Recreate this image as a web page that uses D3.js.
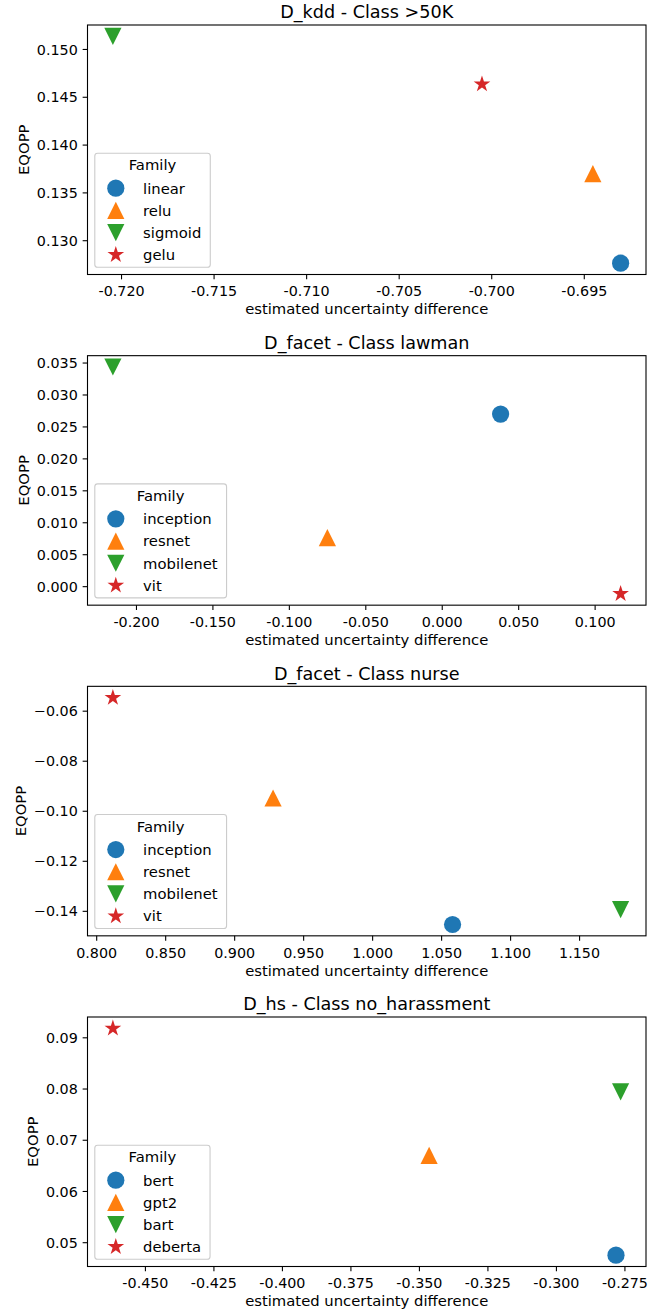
<!DOCTYPE html>
<html>
<head>
<meta charset="utf-8">
<script src="https://cdn.jsdelivr.net/npm/d3@7"></script>
<style>
  html, body { margin: 0; padding: 0; background: #fff; }
  svg { display: block; font-family: "DejaVu Sans", sans-serif; }
</style>
</head>
<body>
<svg id="chart" width="670" height="1311"></svg>
<script>
// ---------- data ----------
const titles = ["D_kdd - Class >50K", "D_facet - Class lawman", "D_facet - Class nurse", "D_hs - Class no_harassment"];

const families1 = ["linear", "relu", "sigmoid", "gelu"];
const xVals1 = [-0.69301, -0.69451, -0.72044, -0.70050];
const yVals1 = [0.12760, 0.13696, 0.15132, 0.14632];
const xTicks1 = [-0.720, -0.715, -0.710, -0.705, -0.700, -0.695];
const yTicks1 = [0.130, 0.135, 0.140, 0.145, 0.150];

const families2 = ["inception", "resnet", "mobilenet", "vit"];
const xVals2 = [0.0385, -0.0748, -0.2151, 0.1170];
const yVals2 = [0.02693, 0.00759, 0.0343, -0.0012];
const xTicks2 = [-0.200, -0.150, -0.100, -0.050, 0.000, 0.050, 0.100];
const yTicks2 = [0.000, 0.005, 0.010, 0.015, 0.020, 0.025, 0.030, 0.035];

const families3 = ["inception", "resnet", "mobilenet", "vit"];
const xVals3 = [1.0583, 0.9282, 1.1801, 0.8121];
const yVals3 = [-0.14546, -0.0949, -0.1395, -0.0548];
const xTicks3 = [0.800, 0.850, 0.900, 0.950, 1.000, 1.050, 1.100, 1.150];
const yTicks3 = [-0.14, -0.12, -0.10, -0.08, -0.06];

const families4 = ["bert", "gpt2", "bart", "deberta"];
const xVals4 = [-0.27808, -0.34628, -0.27639, -0.46169];
const yVals4 = [0.04747, 0.06695, 0.07935, 0.09175];
const xTicks4 = [-0.450, -0.425, -0.400, -0.375, -0.350, -0.325, -0.300, -0.275];
const yTicks4 = [0.05, 0.06, 0.07, 0.08, 0.09];

const xLabel = "estimated uncertainty difference";
const yLabel = "EQOPP";
const legendTitle = "Family";
const colors = ["#1f77b4", "#ff7f0e", "#2ca02c", "#d62728"];
const shapes = ["circle", "triangleUp", "triangleDown", "star"];

const panels = [
  {title: titles[0], fam: families1, xs: xVals1, ys: yVals1, xt: xTicks1, yt: yTicks1, yfmt: ".3f"},
  {title: titles[1], fam: families2, xs: xVals2, ys: yVals2, xt: xTicks2, yt: yTicks2, yfmt: ".3f"},
  {title: titles[2], fam: families3, xs: xVals3, ys: yVals3, xt: xTicks3, yt: yTicks3, yfmt: ".2f"},
  {title: titles[3], fam: families4, xs: xVals4, ys: yVals4, xt: xTicks4, yt: yTicks4, yfmt: ".2f"}
];

// ---------- layout ----------
const left = 87.5, right = 646, plotW = right - left, plotH = 249.5;
const tops = [25, 355.67, 686.33, 1017];
const TICK_FS = 14.3;
const LABEL_FS = 14.8;
const TITLE_FS = 17.6;

const hyphenLocale = d3.formatLocale({decimal: ".", thousands: ",", grouping: [3], currency: ["", ""], minus: "-"});
const xfmt = hyphenLocale.format(".3f");

function markerPath(shape, s) {
  const r = s / 2;
  if (shape === "circle") {
    const p = d3.path(); p.arc(0, 0, r, 0, 2 * Math.PI); p.closePath(); return p.toString();
  }
  if (shape === "triangleUp") return `M0,${-r}L${-r},${r}L${r},${r}Z`;
  if (shape === "triangleDown") return `M0,${r}L${-r},${-r}L${r},${-r}Z`;
  const inner = r * 0.381966;
  let d = "";
  for (let i = 0; i < 10; i++) {
    const rad = i % 2 === 0 ? r * 1.02 : inner * 1.02;
    const a = -Math.PI / 2 + i * Math.PI / 5;
    d += (i === 0 ? "M" : "L") + (rad * Math.cos(a)).toFixed(3) + "," + (rad * Math.sin(a)).toFixed(3);
  }
  return d + "Z";
}
const markerSize = 17.2;

const svg = d3.select("#chart");

panels.forEach((p, pi) => {
  const g = svg.append("g").attr("transform", `translate(${left},${tops[pi]})`);

  const [xmin, xmax] = d3.extent(p.xs);
  const [ymin, ymax] = d3.extent(p.ys);
  const xm = (xmax - xmin) * 0.05, ym = (ymax - ymin) * 0.05;
  const x = d3.scaleLinear().domain([xmin - xm, xmax + xm]).range([0, plotW]);
  const y = d3.scaleLinear().domain([ymin - ym, ymax + ym]).range([plotH, 0]);

  // x axis
  const xAxis = d3.axisBottom(x).tickValues(p.xt).tickFormat(xfmt).tickSize(4.86).tickPadding(4.86);
  const xg = g.append("g").attr("transform", `translate(0,${plotH})`).call(xAxis);
  xg.select(".domain").remove();
  xg.selectAll(".tick line").attr("stroke", "#000").attr("stroke-width", 1.1);
  xg.selectAll(".tick text").attr("fill", "#000").attr("font-size", TICK_FS).attr("font-family", "DejaVu Sans")
    .attr("dy", null).attr("y", 21.7);

  // y axis
  const yAxis = d3.axisLeft(y).tickValues(p.yt).tickFormat(d3.format(p.yfmt)).tickSize(4.86).tickPadding(4.86);
  const yg = g.append("g").call(yAxis);
  yg.select(".domain").remove();
  yg.selectAll(".tick line").attr("stroke", "#000").attr("stroke-width", 1.1);
  yg.selectAll(".tick text").attr("fill", "#000").attr("font-size", TICK_FS).attr("font-family", "DejaVu Sans")
    .attr("dy", "0.36em").attr("x", -9.72);

  // frame (spines)
  g.append("rect").attr("x", 0).attr("y", 0).attr("width", plotW).attr("height", plotH)
    .attr("fill", "none").attr("stroke", "#000").attr("stroke-width", 1.1);

  // points
  g.append("g").selectAll("path").data(p.xs).join("path")
    .attr("transform", (d, i) => `translate(${x(d)},${y(p.ys[i])})`)
    .attr("d", (d, i) => markerPath(shapes[i], markerSize))
    .attr("fill", (d, i) => colors[i]);

  // title
  g.append("text").attr("x", plotW / 2).attr("y", -6.8).attr("text-anchor", "middle")
    .attr("font-size", TITLE_FS).attr("fill", "#000").text(p.title);

  // x label
  g.append("text").attr("x", plotW / 2).attr("y", plotH + 39.7).attr("text-anchor", "middle")
    .attr("font-size", LABEL_FS).attr("fill", "#000").text(xLabel);

  // y label positioned from tick label extents
  const yb = yg.node().getBBox();
  const ylx = yb.x - 8.2;
  g.append("text").attr("transform", `translate(${ylx},${plotH / 2}) rotate(-90)`)
    .attr("text-anchor", "middle").attr("font-size", LABEL_FS).attr("fill", "#000").text(yLabel);

  // legend
  const lg = g.append("g");
  const lLeft = 7.3;
  const lBottom = plotH - 7.3;
  const rowY = p.fam.map((f, i) => lBottom - 12.4 - (3 - i) * 22.2);
  const lTop = rowY[0] - 35;
  const frame = lg.append("rect");
  const texts = lg.selectAll("text.item").data(p.fam).join("text").attr("class", "item")
    .attr("x", lLeft + 48.3).attr("y", (d, i) => rowY[i]).attr("dy", "0.36em")
    .attr("font-size", LABEL_FS).attr("fill", "#000").text(d => d);
  let maxW = 0;
  texts.each(function () { maxW = Math.max(maxW, this.getComputedTextLength()); });
  const lW = 48.3 + maxW + 9;
  frame.attr("x", lLeft).attr("y", lTop).attr("width", lW).attr("height", lBottom - lTop)
    .attr("rx", 2.8).attr("ry", 2.8)
    .attr("fill", "#fff").attr("fill-opacity", 0.8).attr("stroke", "#cccccc").attr("stroke-width", 1.1);
  lg.append("text").attr("x", lLeft + lW / 2).attr("y", rowY[0] - 23.3).attr("dy", "0.36em")
    .attr("text-anchor", "middle").attr("font-size", LABEL_FS).attr("fill", "#000").text(legendTitle);
  lg.selectAll("path").data(p.fam).join("path")
    .attr("transform", (d, i) => `translate(${lLeft + 21},${rowY[i]})`)
    .attr("d", (d, i) => markerPath(shapes[i], markerSize))
    .attr("fill", (d, i) => colors[i]);
});
</script>
</body>
</html>
